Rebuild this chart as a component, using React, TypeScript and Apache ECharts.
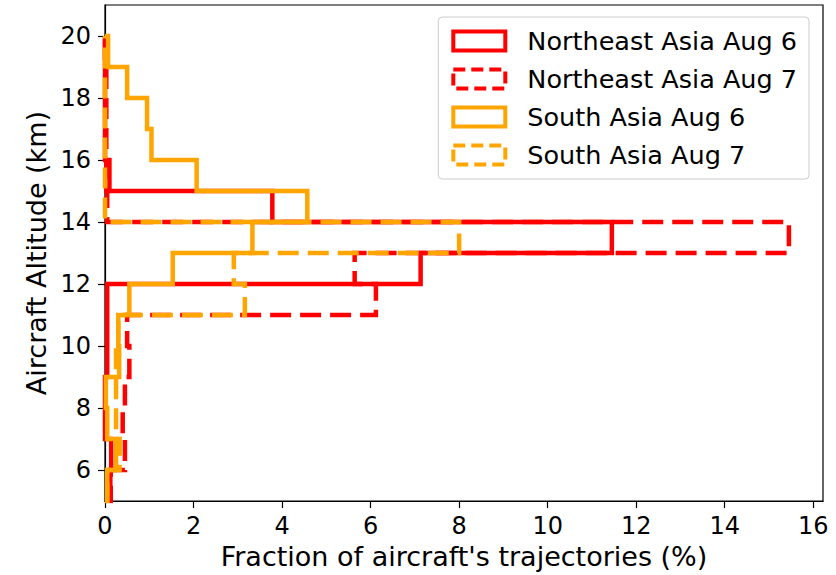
import React, { useEffect, useRef } from "react";
import * as echarts from "echarts";

// Histogram bin edges (km)
const binEdges = [5, 6, 7, 8, 9, 10, 11, 12, 13, 14, 15, 16, 17, 18, 19, 20];
// Fraction (%) per 1-km bin, from 5-6 km up to 19-20 km
const neAug6 = [0.12, 0.14, 0.0, 0.0, 0.05, 0.05, 0.05, 7.13, 11.45, 3.78, 0.1, 0, 0, 0, 0];
const neAug7 = [0.13, 0.45, 0.4, 0.45, 0.55, 0.5, 6.12, 5.64, 15.45, 0.05, 0.03, 0.03, 0.03, 0.03, 0];
const saAug6 = [0.05, 0.25, 0.05, 0.02, 0.32, 0.3, 0.55, 1.53, 3.33, 4.57, 2.07, 1.05, 0.95, 0.5, 0.07];
const saAug7 = [0.05, 0.33, 0.25, 0.25, 0.25, 0.3, 3.16, 2.91, 8.0, 0, 0, 0, 0, 0, 0];

const seriesNames = [
  "Northeast Asia Aug 6",
  "Northeast Asia Aug 7",
  "South Asia Aug 6",
  "South Asia Aug 7",
];
const xTicks = [0, 2, 4, 6, 8, 10, 12, 14, 16];
const yTicks = [6, 8, 10, 12, 14, 16, 18, 20];

const RED = "#ff0000";
const ORANGE = "#ffa500";
const FONT = "DejaVu Sans";

function stepPath(values: number[]): number[][] {
  const pts: number[][] = [[0, binEdges[0]]];
  values.forEach((v, i) => {
    pts.push([v, binEdges[i]]);
    pts.push([v, binEdges[i + 1]]);
  });
  pts.push([0, binEdges[binEdges.length - 1]]);
  return pts;
}

export default function App() {
  const ref = useRef<HTMLDivElement>(null);
  useEffect(() => {
    document.body.style.margin = "0";
    const chart = echarts.init(ref.current!, null, { renderer: "svg" });
    const dash = [21, 9];
    const defs = [
      { name: seriesNames[0], data: neAug6, color: RED, dashed: false },
      { name: seriesNames[1], data: neAug7, color: RED, dashed: true },
      { name: seriesNames[2], data: saAug6, color: ORANGE, dashed: false },
      { name: seriesNames[3], data: saAug7, color: ORANGE, dashed: true },
    ];
    chart.setOption({
      animation: false,
      backgroundColor: "#ffffff",
      grid: {
        left: 105,
        top: 5,
        right: 13,
        bottom: 72,
        show: true,
        borderColor: "#000",
        borderWidth: 1.2,
        backgroundColor: "#fff",
      },
      legend: {
        orient: "vertical",
        right: 27,
        top: 17,
        padding: [11, 12, 11, 13],
        backgroundColor: "#fff",
        borderColor: "#cccccc",
        borderWidth: 1,
        borderRadius: 4,
        itemWidth: 52,
        itemHeight: 19,
        itemGap: 12,
        textStyle: {
          fontFamily: FONT,
          fontSize: 25.5,
          color: "#000",
          padding: [0, 0, 0, 17],
          lineHeight: 26,
        },
        data: defs.map((d) => ({
          name: d.name,
          icon: "rect",
          itemStyle: {
            color: "rgba(0,0,0,0)",
            borderColor: d.color,
            borderWidth: 4,
            borderType: d.dashed ? [12, 6] : "solid",
          },
        })),
      },
      xAxis: {
        type: "value",
        min: 0,
        max: 16.22,
        name: "Fraction of aircraft's trajectories (%)",
        nameLocation: "middle",
        nameGap: 41,
        nameTextStyle: { fontFamily: FONT, fontSize: 27, color: "#000" },
        axisLine: { show: true, lineStyle: { color: "#000", width: 1.2 } },
        axisTick: {
          show: true,
          length: 7,
          lineStyle: { color: "#000", width: 1.2 },
          customValues: xTicks,
        },
        axisLabel: {
          fontFamily: FONT,
          fontSize: 24,
          color: "#000",
          margin: 13,
          customValues: xTicks,
        },
        splitLine: { show: false },
      },
      yAxis: {
        type: "value",
        min: 5,
        max: 21,
        name: "Aircraft Altitude (km)",
        nameLocation: "middle",
        nameGap: 51,
        nameTextStyle: { fontFamily: FONT, fontSize: 27, color: "#000" },
        axisLine: { show: true, lineStyle: { color: "#000", width: 1.2 } },
        axisTick: {
          show: true,
          length: 7,
          lineStyle: { color: "#000", width: 1.2 },
          customValues: yTicks,
        },
        axisLabel: {
          fontFamily: FONT,
          fontSize: 24,
          color: "#000",
          margin: 14,
          customValues: yTicks,
        },
        splitLine: { show: false },
      },
      series: defs.map((d) => ({
        name: d.name,
        type: "line",
        data: stepPath(d.data),
        showSymbol: false,
        symbol: "none",
        color: d.color,
        clip: true,
        lineStyle: {
          color: d.color,
          width: 4.5,
          type: d.dashed ? dash : "solid",
          cap: "butt",
          join: "miter",
        },
      })),
    });
    return () => chart.dispose();
  }, []);
  return (
    <div
      ref={ref}
      style={{ position: "absolute", left: 0, top: 0, width: 836, height: 575 }}
    />
  );
}
